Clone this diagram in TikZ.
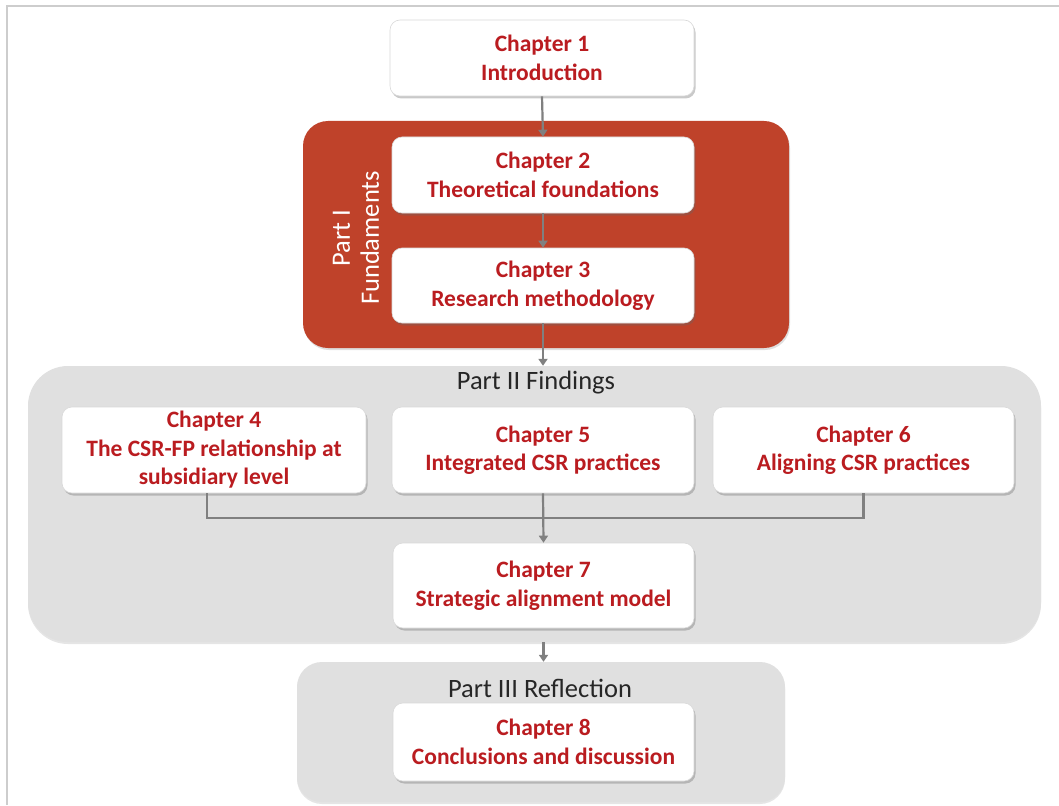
\documentclass[tikz,border=0pt]{standalone}
\usepackage{fontspec}
\setmainfont{Carlito}
\usetikzlibrary{shadows,arrows.meta}
\definecolor{redbox}{RGB}{191,66,42}
\definecolor{chred}{RGB}{186,28,32}
\definecolor{panel}{RGB}{224,224,224}
\definecolor{conn}{RGB}{128,128,128}
\definecolor{frame}{RGB}{205,205,205}
\tikzset{
  chbox/.style={draw=white!85!black, line width=0.6pt, fill=white, rounded corners=10pt,
    drop shadow={shadow xshift=1.5pt, shadow yshift=-2.5pt, opacity=0.35, fill=black!60},
    text=chred, font=\fontsize{23.5}{28.5}\selectfont\bfseries, align=center, inner sep=0pt},
  container/.style={rounded corners=#1, inner sep=0pt},
  partlabel/.style={font=\fontsize{26.5}{29}\selectfont, align=center, inner sep=0pt},
  link/.style={draw=conn, line width=2.2pt},
  arr/.style={link, -{Triangle[length=7pt,width=9pt]}}
}
\begin{document}
\begin{tikzpicture}[x=1pt,y=-1pt]
\useasboundingbox (0,0) rectangle (1059,805);
\fill[white] (0,0) rectangle (1059,805);
% frame
\draw[frame, line width=2.5pt] (7,805) -- (7,6) -- (1059,6);
% containers
\node[container=25pt, fill=redbox, minimum width=486pt, minimum height=227pt,
  drop shadow={shadow xshift=1pt, shadow yshift=-2pt, opacity=0.25}] (p1) at (546,234.5) {};
\node[container=40pt, fill=panel, minimum width=1013pt, minimum height=276pt,
  drop shadow={shadow xshift=0pt, shadow yshift=-2pt, opacity=0.2}] (p2) at (534.5,504) {};
\node[container=25pt, fill=panel, minimum width=488pt, minimum height=140pt,
  drop shadow={shadow xshift=0pt, shadow yshift=-2pt, opacity=0.2}] (p3) at (541,732) {};
% part labels
\node[partlabel, text=white, rotate=90] (l1) at (356,238) {Part I\\Fundaments};
\node[partlabel, text=black!85] (l2) at (536,383) {Part II Findings};
\node[partlabel, text=black!85] (l3) at (540,688) {Part III Reflection};
% chapters
\node[chbox, minimum width=304pt, minimum height=76pt] (c1) at (542,58) {Chapter 1\\Introduction};
\node[chbox, minimum width=302pt, minimum height=76pt] (c2) at (543,175) {Chapter 2\\Theoretical foundations};
\node[chbox, minimum width=302pt, minimum height=75pt] (c3) at (543,285.5) {Chapter 3\\Research methodology};
\node[chbox, minimum width=304pt, minimum height=86pt] (c4) at (214,450) {Chapter 4\\The CSR-FP relationship at\\subsidiary level};
\node[chbox, minimum width=302pt, minimum height=86pt] (c5) at (543,450) {Chapter 5\\Integrated CSR practices};
\node[chbox, minimum width=301pt, minimum height=86pt] (c6) at (863.5,450) {Chapter 6\\Aligning CSR practices};
\node[chbox, minimum width=301pt, minimum height=85pt] (c7) at (543.5,585.5) {Chapter 7\\Strategic alignment model};
\node[chbox, minimum width=301pt, minimum height=78pt] (c8) at (543.5,742) {Chapter 8\\Conclusions and discussion};
% connectors
\coordinate (j) at (543,518);
\draw[arr] (c1.south) -- (c2.north);
\draw[arr] (c2.south) -- (c3.north);
\draw[arr] (c3.south) -- (c3.south |- p2.north);
\draw[link] ([xshift=-7pt]c4.south) -- ([xshift=-7pt]c4.south |- j) -| (c6.south);
\draw[arr] (c5.south) -- (c7.north);
\draw[arr] (p2.south -| c7.south) -- (p3.north -| c7.south);
\end{tikzpicture}
\end{document}
